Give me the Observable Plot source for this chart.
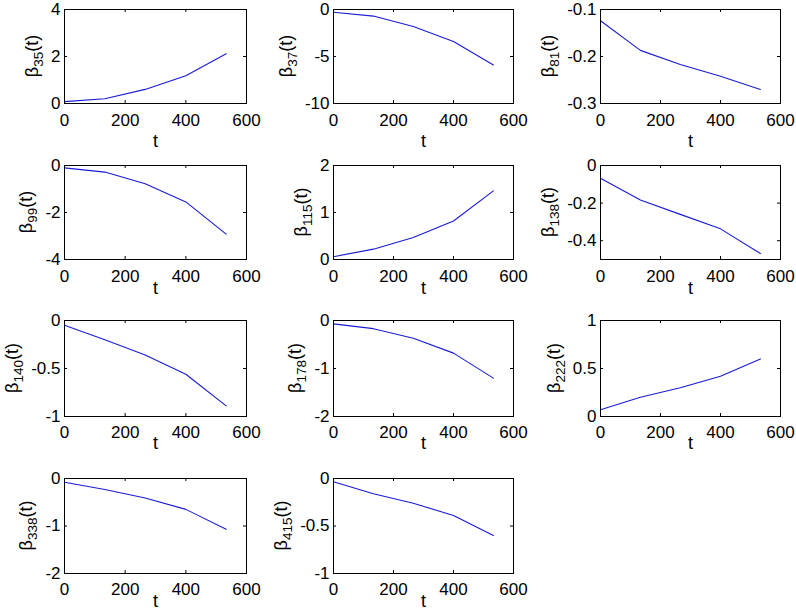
<!DOCTYPE html>
<html><head><meta charset="utf-8">
<script src="https://cdn.jsdelivr.net/npm/d3@7"></script>
<script src="https://cdn.jsdelivr.net/npm/@observablehq/plot@0.6"></script>
<style>
body{margin:0;background:#fff;}
#chart{position:relative;width:796px;height:616px;background:#fff;overflow:hidden;}
#chart svg{position:absolute;overflow:visible;max-width:none;}
</style></head><body><div id="chart"></div>
<script>
// ---- data ----
const t = [0, 133, 266, 400, 533];
const xTicks = [0, 200, 400, 600];
const ids = ["35", "37", "81", "99", "115", "138", "140", "178", "222", "338", "415"];

const beta35  = [0.08, 0.20, 0.60, 1.18, 2.12];
const beta37  = [-0.30, -0.70, -1.80, -3.40, -5.90];
const beta81  = [-0.124, -0.187, -0.217, -0.242, -0.270];
const beta99  = [-0.10, -0.28, -0.78, -1.55, -2.92];
const beta115 = [0.06, 0.22, 0.47, 0.82, 1.46];
const beta138 = [-0.068, -0.183, -0.260, -0.337, -0.468];
const beta140 = [-0.05, -0.20, -0.36, -0.56, -0.89];
const beta178 = [-0.07, -0.17, -0.37, -0.68, -1.20];
const beta222 = [0.07, 0.20, 0.30, 0.42, 0.60];
const beta338 = [-0.08, -0.23, -0.41, -0.65, -1.07];
const beta415 = [-0.035, -0.16, -0.26, -0.39, -0.60];

const series = [beta35, beta37, beta81, beta99, beta115, beta138, beta140, beta178, beta222, beta338, beta415];

const yDomains = [[0, 4], [-10, 0], [-0.3, -0.1], [-4, 0], [0, 2], [-0.5, 0], [-1, 0], [-2, 0], [0, 1], [-2, 0], [-1, 0]];
const yTicks = [[0, 2, 4], [-10, -5, 0], [-0.3, -0.2, -0.1], [-4, -2, 0], [0, 1, 2], [-0.4, -0.2, 0], [-1, -0.5, 0], [-2, -1, 0], [0, 0.5, 1], [-2, -1, 0], [-1, -0.5, 0]];

// ---- layout ----
const colLefts = [64, 333, 600], colWidths = [182, 180, 180];
const rowTops = [9, 165, 320, 478], rowHeights = [94, 94, 96, 95];
const rowTickPad = [10, 10, 9, 9];
const rowTLabelDy = [43, 34, 32, 33];
const mL = 80, mR = 10, mT = 12, mB = 55;
const fontSize = 17, labelSize = 18, subSize = 13.5, tickLen = 3;
const fontFamily = '"Liberation Sans", Arial, sans-serif';
const lineColor = "#1a1ad6";

const container = document.getElementById("chart");

ids.forEach((id, i) => {
  const r = Math.floor(i / 3), c = i % 3;
  const w = colWidths[c], h = rowHeights[r];
  const data = t.map((tt, k) => ({t: tt, v: series[i][k]}));
  const plot = Plot.plot({
    width: mL + w + mR, height: mT + h + mB,
    marginLeft: mL, marginRight: mR, marginTop: mT, marginBottom: mB,
    style: {fontFamily, fontSize: fontSize + "px", background: "transparent", color: "black", overflow: "visible"},
    x: {domain: [0, 600]},
    y: {domain: yDomains[i]},
    marks: [
      Plot.line(data, {x: "t", y: "v", stroke: lineColor, strokeWidth: 1.1}),
      Plot.tickX(xTicks, {x: d => d, insetTop: h - tickLen, stroke: "black"}),
      Plot.tickX(xTicks, {x: d => d, insetBottom: h - tickLen, stroke: "black"}),
      Plot.tickY(yTicks[i], {y: d => d, insetRight: w - tickLen, stroke: "black"}),
      Plot.tickY(yTicks[i], {y: d => d, insetLeft: w - tickLen, stroke: "black"}),
      Plot.axisX(xTicks, {tickSize: 0, tickPadding: rowTickPad[r], tickFormat: d => String(d), label: null, fill: "black"}),
      Plot.axisY(yTicks[i], {tickSize: 0, tickPadding: 4, tickFormat: d => String(d), label: null, fill: "black"}),
      Plot.text(["t"], {frameAnchor: "bottom", dy: rowTLabelDy[r], lineAnchor: "bottom", fontSize: labelSize, fill: "black"}),
      Plot.frame({stroke: "black", strokeWidth: 1})
    ]
  });
  plot.style.left = (colLefts[c] - mL) + "px";
  plot.style.top = (rowTops[r] - mT) + "px";
  container.appendChild(plot);

  // y label with subscript, placed left of the tick labels
  const svgRect = plot.getBoundingClientRect();
  const lab = plot.querySelector('g[aria-label="y-axis tick label"]');
  const lr = lab.getBoundingClientRect();
  const x = lr.left - svgRect.left - 13;
  const y = mT + h / 2;
  const txt = d3.select(plot).append("text")
    .attr("transform", `translate(${x},${y}) rotate(-90)`)
    .attr("text-anchor", "middle")
    .attr("fill", "black")
    .style("font-family", fontFamily)
    .style("font-size", labelSize + "px");
  txt.append("tspan").text("β");
  txt.append("tspan").style("font-size", subSize + "px").attr("dy", 5).text(id);
  txt.append("tspan").attr("dy", -5).text("(t)");
});
</script>
</body></html>
